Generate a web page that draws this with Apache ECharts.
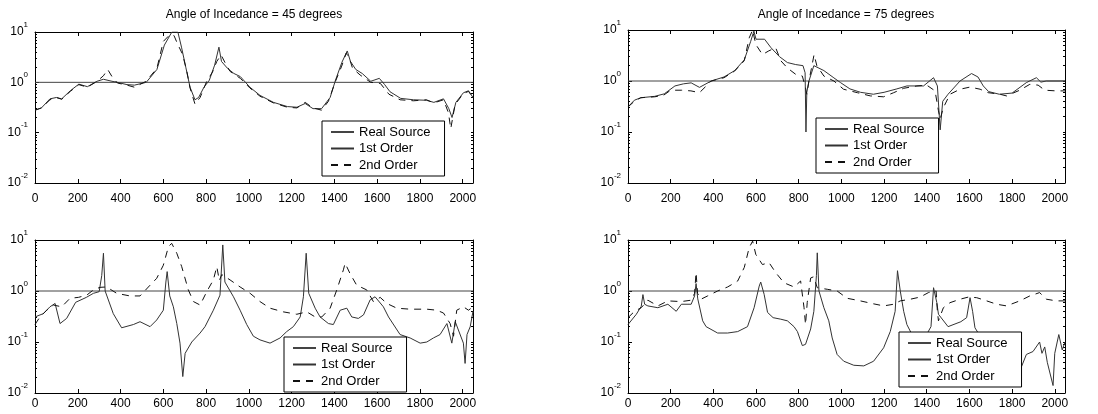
<!DOCTYPE html>
<html>
<head>
<meta charset="utf-8">
<script src="https://cdn.jsdelivr.net/npm/echarts@6/dist/echarts.min.js"></script>
<style>
    html, body {margin:0; padding:0; background:#fff;}
    #chart {width:1098px; height:414px;}
</style>
</head>
<body>
<div id="chart"></div>
<script>
var xTicks = [0, 200, 400, 600, 800, 1000, 1200, 1400, 1600, 1800, 2000];
var titles = ['Angle of Incedance = 45 degrees', 'Angle of Incedance = 75 degrees'];
var names = ['Real Source', '1st Order', '2nd Order'];
var realSource = [[0, 1], [2048, 1]];

// 45 deg, first harmonic set
var tl1st = [[0,0.28],[30,0.31],[70,0.47],[100,0.5],[125,0.47],[165,0.68],[205,0.92],[245,0.82],[290,1.05],[320,1.15],[360,1.05],[385,1.0],[430,0.9],[465,0.88],[520,1.0],[570,1.8],[605,5.5],[640,10],[668,10],[685,5],[705,2.0],[725,0.8],[748,0.45],[765,0.5],[790,0.8],[815,1.1],[840,2.2],[860,5.0],[872,2.6],[900,1.9],[930,1.5],[960,1.3],[1005,0.8],[1052,0.55],[1115,0.4],[1180,0.33],[1225,0.32],[1263,0.38],[1300,0.3],[1340,0.3],[1380,0.5],[1405,1.1],[1435,2.5],[1460,4.2],[1475,2.6],[1500,1.8],[1530,1.5],[1570,1.05],[1610,1.2],[1635,0.9],[1660,0.65],[1710,0.48],[1770,0.45],[1830,0.44],[1865,0.4],[1910,0.47],[1935,0.3],[1950,0.2],[1968,0.4],[2003,0.62],[2027,0.68],[2048,0.5]];
var tl2nd = [[0,0.28],[30,0.31],[70,0.45],[100,0.5],[125,0.46],[165,0.66],[205,0.9],[245,0.8],[290,1.05],[320,1.35],[340,1.8],[360,1.3],[385,0.97],[430,0.88],[465,0.8],[520,1.05],[570,1.9],[600,6.5],[630,8.8],[650,8.5],[665,6],[690,3.6],[710,1.65],[725,0.77],[748,0.37],[772,0.5],[803,1.05],[830,1.6],[850,2.6],[870,3.5],[890,2.4],[912,1.65],[960,1.2],[1005,0.77],[1052,0.53],[1115,0.39],[1180,0.32],[1225,0.31],[1263,0.4],[1300,0.31],[1340,0.28],[1372,0.42],[1403,1.0],[1434,2.1],[1455,3.8],[1470,3.0],[1485,1.9],[1520,1.4],[1570,1.0],[1615,0.95],[1655,0.58],[1707,0.45],[1770,0.43],[1830,0.45],[1865,0.39],[1910,0.45],[1933,0.25],[1944,0.12],[1964,0.36],[2003,0.6],[2027,0.66],[2048,0.5]];

// 75 deg
var tr1st = [[0,0.31],[30,0.42],[60,0.47],[125,0.5],[170,0.56],[220,0.8],[260,0.88],[296,0.92],[335,0.75],[390,1.0],[450,1.2],[500,1.6],[545,2.6],[575,6],[590,9.5],[600,6.6],[640,6.6],[670,4.5],[710,3.0],[747,2.3],[786,2.1],[820,2.0],[830,1.45],[834,0.1],[838,0.6],[848,1.0],[871,2.0],[918,1.6],[965,1.15],[996,0.93],[1040,0.7],[1090,0.6],[1150,0.55],[1200,0.6],[1260,0.7],[1307,0.8],[1385,0.8],[1432,1.16],[1450,0.8],[1463,0.11],[1475,0.4],[1500,0.55],[1556,1.0],[1610,1.4],[1640,1.2],[1665,0.8],[1690,0.62],[1740,0.55],[1800,0.58],[1867,0.93],[1914,1.16],[1935,0.95],[1960,1.0],[2048,1.0]];
var tr2nd = [[0,0.31],[30,0.4],[60,0.47],[125,0.49],[165,0.52],[200,0.66],[250,0.66],[295,0.64],[335,0.59],[390,1.0],[450,1.16],[500,1.57],[545,2.5],[568,7],[584,10],[599,5.2],[630,3.3],[660,3.9],[692,4.5],[716,2.5],[747,1.8],[786,1.35],[817,1.25],[832,0.74],[838,0.55],[848,1.0],[860,1.8],[872,3.3],[885,2.0],[918,1.25],[965,1.0],[1010,0.69],[1075,0.59],[1136,0.51],[1198,0.49],[1245,0.59],[1292,0.72],[1354,0.8],[1400,0.83],[1439,0.64],[1455,0.26],[1463,0.18],[1478,0.3],[1509,0.55],[1556,0.69],[1603,0.76],[1650,0.69],[1688,0.59],[1743,0.55],[1774,0.51],[1836,0.66],[1883,0.86],[1922,0.83],[1953,0.66],[2007,0.64],[2048,0.64]];

// 45 deg, lower panel
var bl1st = [[0,0.31],[39,0.36],[70,0.49],[94,0.57],[117,0.23],[148,0.29],[190,0.6],[240,0.75],[273,0.9],[300,0.97],[312,2.0],[320,5.5],[328,1.0],[366,0.36],[405,0.19],[460,0.22],[491,0.25],[538,0.2],[569,0.27],[600,0.42],[612,1.5],[618,2.4],[630,0.8],[647,0.49],[663,0.23],[678,0.095],[691,0.021],[702,0.06],[733,0.1],[772,0.15],[795,0.2],[834,0.42],[865,0.83],[878,8],[888,1.5],[928,0.77],[959,0.42],[990,0.22],[1021,0.13],[1052,0.11],[1099,0.095],[1146,0.12],[1177,0.16],[1208,0.2],[1240,0.31],[1255,0.77],[1268,5.5],[1280,0.9],[1310,0.46],[1333,0.31],[1372,0.23],[1395,0.22],[1427,0.42],[1458,0.46],[1481,0.31],[1512,0.29],[1536,0.34],[1567,0.67],[1590,0.77],[1629,0.49],[1653,0.31],[1707,0.14],[1754,0.12],[1801,0.095],[1832,0.1],[1863,0.12],[1894,0.14],[1926,0.23],[1949,0.095],[1965,0.25],[2003,0.095],[2011,0.038],[2020,0.14],[2035,0.2],[2048,0.4]];
var bl2nd = [[0,0.22],[23,0.31],[55,0.42],[86,0.53],[125,0.49],[164,0.72],[203,0.75],[242,0.83],[273,1.05],[304,1.18],[335,1.2],[382,0.9],[444,0.8],[491,0.8],[538,1.3],[569,1.77],[600,3.2],[624,7.4],[639,8.6],[663,5.5],[686,3.0],[717,1.05],[741,0.62],[772,0.53],[803,0.97],[834,1.65],[850,3.0],[862,1.6],[873,2.1],[912,1.65],[959,1.2],[1006,0.9],[1052,0.62],[1099,0.46],[1161,0.39],[1224,0.35],[1271,0.39],[1310,0.31],[1341,0.31],[1380,0.46],[1411,1.05],[1442,2.6],[1450,3.5],[1473,2.2],[1504,1.3],[1551,1.05],[1582,0.62],[1614,0.75],[1645,0.57],[1692,0.46],[1754,0.44],[1832,0.44],[1879,0.42],[1910,0.37],[1941,0.23],[1957,0.13],[1972,0.42],[2003,0.49],[2027,0.42],[2048,0.49]];

// 75 deg, lower panel
var br1st = [[0,0.22],[39,0.35],[62,0.5],[70,0.85],[78,0.55],[93,0.51],[140,0.47],[187,0.55],[226,0.4],[250,0.55],[296,0.55],[312,0.8],[319,1.4],[327,0.7],[350,0.26],[366,0.2],[420,0.15],[467,0.15],[514,0.16],[560,0.2],[591,0.47],[615,1.25],[622,1.5],[638,0.86],[654,0.38],[680,0.3],[716,0.28],[747,0.26],[778,0.2],[794,0.16],[817,0.085],[832,0.09],[856,0.18],[871,0.4],[883,2],[887,5.6],[895,1.0],[918,0.47],[941,0.26],[957,0.12],[980,0.057],[1011,0.042],[1058,0.035],[1105,0.034],[1151,0.042],[1198,0.077],[1229,0.16],[1252,0.4],[1263,2.5],[1276,1.0],[1292,0.4],[1307,0.22],[1331,0.14],[1380,0.1],[1420,0.2],[1432,1.16],[1447,0.6],[1455,0.35],[1500,0.2],[1560,0.25],[1587,0.3],[1603,0.74],[1615,0.4],[1626,0.19],[1700,0.06],[1790,0.03],[1836,0.027],[1867,0.057],[1898,0.065],[1929,0.1],[1940,0.06],[1953,0.08],[1965,0.04],[1992,0.014],[2000,0.06],[2019,0.14],[2035,0.07],[2048,0.1]];
var br2nd = [[0,0.3],[31,0.4],[62,0.47],[93,0.66],[140,0.51],[187,0.64],[249,0.62],[296,0.66],[312,0.9],[319,2.3],[326,0.9],[342,0.69],[373,0.8],[420,1.0],[467,1.2],[514,1.57],[545,2.9],[568,7.1],[584,9.5],[599,5.2],[630,3.3],[661,3.6],[692,2.3],[731,1.45],[778,1.2],[809,1.57],[825,0.47],[832,0.22],[840,0.6],[856,1.8],[870,1.9],[887,1.16],[934,1.08],[980,1.0],[1027,0.72],[1089,0.64],[1151,0.56],[1198,0.51],[1245,0.55],[1276,0.64],[1323,0.69],[1369,0.76],[1408,0.93],[1444,1.0],[1450,0.4],[1455,0.26],[1478,0.47],[1509,0.59],[1556,0.69],[1595,0.76],[1634,0.74],[1681,0.64],[1728,0.55],[1774,0.51],[1836,0.64],[1883,0.8],[1929,0.93],[1961,0.69],[2007,0.64],[2048,0.64]];

var FONT = "'Liberation Sans', Arial, sans-serif";

/* minor ticks of the log axis, in decades */
var yMinor = [], yAll = [-2, -1, 0, 1];
for (var n = -2; n < 1; n++) {
    for (var k = 2; k < 10; k++) { yMinor.push(n + Math.log10(k)); yAll.push(n + Math.log10(k)); }
}

var panels = [
    {grid:{left:35, top:32, width:438, height:151}, legend:{left:322, top:121}, lblMargin:10, d1:tl1st, d2:tl2nd},
    {grid:{left:628, top:30, width:437, height:153}, legend:{left:816, top:118}, lblMargin:10, d1:tr1st, d2:tr2nd},
    {grid:{left:35, top:240, width:438, height:153}, legend:{left:284, top:337}, lblMargin:5, d1:bl1st, d2:bl2nd},
    {grid:{left:628, top:240, width:437, height:153}, legend:{left:899, top:332}, lblMargin:5, d1:br1st, d2:br2nd}
];

function logLabel(v){
    var e = Math.round(Math.log10(v));
    return '{b|10}{s|' + e + '}';
}

var option = {
    animation: false,
    backgroundColor: '#fff',
    textStyle: {fontFamily: FONT},
    title: [
        {text: titles[0], left: 254, top: 9, textAlign: 'center', padding: 0, textStyle: {fontSize: 12, fontWeight: 'normal', color: '#000', fontFamily: FONT}},
        {text: titles[1], left: 846, top: 9, textAlign: 'center', padding: 0, textStyle: {fontSize: 12, fontWeight: 'normal', color: '#000', fontFamily: FONT}}
    ],
    grid: [], xAxis: [], yAxis: [], legend: [], series: []
};

var black = {color: '#000', width: 1};
panels.forEach(function(p, g){
    option.grid.push(p.grid);
    // bottom (labels) and top (ticks only)
    option.xAxis.push({gridIndex: g, type: 'value', min: 0, max: 2048, position: 'bottom',
        axisLine: {show: true, onZero: false, lineStyle: black},
        axisTick: {show: true, inside: true, length: 4, customValues: xTicks, lineStyle: black},
        axisLabel: {customValues: xTicks, color: '#000', fontSize: 12, margin: p.lblMargin, fontFamily: FONT,
            formatter: function(v){ return String(v); }},
        splitLine: {show: false}});
    option.xAxis.push({gridIndex: g, type: 'value', min: 0, max: 2048, position: 'top',
        axisLine: {show: true, onZero: false, lineStyle: black},
        axisTick: {show: true, inside: true, length: 4, customValues: xTicks, lineStyle: black},
        axisLabel: {show: false}, splitLine: {show: false}});
    // log axis + minor ticks left + ticks right
    option.yAxis.push({gridIndex: g, type: 'log', logBase: 10, min: 0.01, max: 10, position: 'left',
        axisLine: {show: true, onZero: false, lineStyle: black},
        axisTick: {show: true, inside: true, length: 4, lineStyle: black},
        axisLabel: {formatter: logLabel, margin: 7, color: '#000',
            rich: {b: {fontSize: 12, lineHeight: 23, verticalAlign: 'middle', fontFamily: FONT, color: '#000'},
                   s: {fontSize: 8, lineHeight: 10, verticalAlign: 'top', fontFamily: FONT, color: '#000'}}},
        splitLine: {show: false}});
    option.yAxis.push({gridIndex: g, type: 'value', min: -2, max: 1, position: 'left',
        axisLine: {show: false},
        axisTick: {show: true, inside: true, length: 2, customValues: yMinor, lineStyle: black},
        axisLabel: {show: false}, splitLine: {show: false}});
    option.yAxis.push({gridIndex: g, type: 'value', min: -2, max: 1, position: 'right',
        axisLine: {show: true, onZero: false, lineStyle: black},
        axisTick: {show: true, inside: true, length: 2, customValues: yAll, lineStyle: black},
        axisLabel: {show: false}, splitLine: {show: false}});

    option.legend.push({
        data: names, orient: 'vertical', left: p.legend.left, top: p.legend.top,
        itemWidth: 23, itemHeight: 14, itemGap: 2.5, padding: [4, 14, 4, 8],
        borderColor: '#000', borderWidth: 1, borderRadius: 0, backgroundColor: '#fff',
        selectedMode: false, z: 10,
        itemStyle: {opacity: 0},
        textStyle: {fontSize: 13, color: '#000', fontFamily: FONT, lineHeight: 14}
    });

    var base = {type: 'line', xAxisIndex: 2 * g, yAxisIndex: 3 * g, symbol: 'none', showSymbol: false, clip: true, z: 2};
    option.series.push(Object.assign({}, base, {name: names[0], data: realSource, lineStyle: {color: '#444', width: 1}, itemStyle: {color: '#444'}}));
    option.series.push(Object.assign({}, base, {name: names[1], data: p.d1, lineStyle: {color: '#333', width: 1}, itemStyle: {color: '#333'}}));
    option.series.push(Object.assign({}, base, {name: names[2], data: p.d2, lineStyle: {color: '#111', width: 1, type: [7, 6]}, itemStyle: {color: '#111'}}));
});

var myChart = echarts.init(document.getElementById('chart'));
myChart.setOption(option);
</script>
</body>
</html>
